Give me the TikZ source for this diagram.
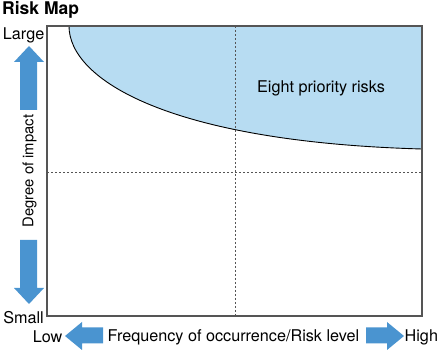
\documentclass[tikz,border=0pt]{standalone}
\usepackage{fontspec}
\setmainfont{TeX Gyre Heros}
\definecolor{zonefill}{HTML}{B7DCF2}
\definecolor{arrowblue}{HTML}{4A94D0}
\definecolor{framegray}{HTML}{555555}
\begin{document}
\begin{tikzpicture}[x=1pt,y=-1pt,
  lbl/.style={inner sep=0pt,font=\fontsize{16.2}{19}\selectfont},
  bigarrow/.style={fill=arrowblue,draw=none},
  guide/.style={draw=framegray,line width=0.9pt,dash pattern=on 2pt off 2pt}]
\useasboundingbox (0,0) rectangle (439,352);
% title
\node[anchor=west,inner sep=0pt,font=\fontsize{17.5}{20}\selectfont\bfseries] (title) at (2,10) {Risk Map};
% frame corners
\coordinate (tl) at (47,26);
\coordinate (br) at (422,316);
% shaded zone
\fill[zonefill] (69,26) .. controls (69,80) and (170,142) .. (422,149) -- (422,26) -- cycle;
% guides
\coordinate (vt) at (235,26); \coordinate (vb) at (235,316);
\coordinate (hl) at (47,172); \coordinate (hr) at (422,172);
\draw[guide] (vt) -- (vb);
\draw[guide] (hl) -- (hr);
% curve
\draw[black,line width=0.9pt] (69,26) .. controls (69,80) and (170,142) .. (422,149);
% frame
\draw[framegray,line width=1.2pt] (tl) rectangle (br);
% zone label
\node[lbl] (zone) at (321,88) {Eight priority risks};
% vertical axis
\node[lbl,anchor=east] (large) at (44.5,35) {Large};
\node[lbl,anchor=east] (small) at (44,318) {Small};
\fill[bigarrow] (29,46) -- (44,62) -- (37,62) -- (37,110) -- (20,110) -- (20,62) -- (14,62) -- cycle;
\fill[bigarrow] (29,304) -- (44,288) -- (37,288) -- (37,240) -- (20,240) -- (20,288) -- (14,288) -- cycle;
\node[lbl,rotate=90,font=\fontsize{14.8}{17}\selectfont] (impact) at (29.5,171) {Degree of impact};
% horizontal axis
\node[lbl,anchor=east] (low) at (62.5,337) {Low};
\node[lbl] (freq) at (233.5,337) {Frequency of occurrence/Risk level};
\node[lbl,anchor=west] (high) at (404.5,337) {High};
\fill[bigarrow] (65,336) -- (82,322) -- (82,327.5) -- (103,327.5) -- (103,343.5) -- (82,343.5) -- (82,350) -- cycle;
\fill[bigarrow] (404,336) -- (387,322) -- (387,327.5) -- (366,327.5) -- (366,343.5) -- (387,343.5) -- (387,350) -- cycle;
\end{tikzpicture}
\end{document}
